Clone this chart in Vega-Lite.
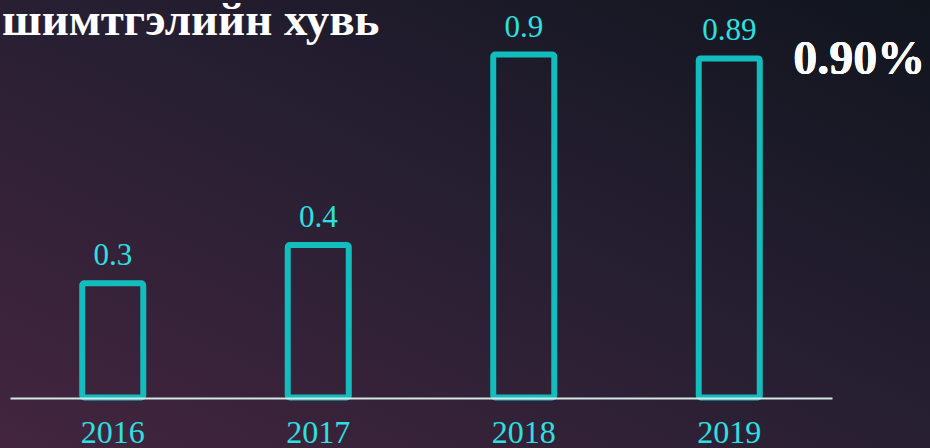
{
  "$schema": "https://vega.github.io/schema/vega-lite/v6.json",
  "width": 930,
  "height": 448,
  "autosize": {"type": "none"},
  "padding": 0,
  "background": "#231d2e",
  "config": {
    "view": {
      "stroke": null,
      "fill": {
        "gradient": "linear",
        "x1": 0, "y1": 1, "x2": 1, "y2": 0,
        "stops": [
          {"offset": 0, "color": "#43253f"},
          {"offset": 0.5, "color": "#281f33"},
          {"offset": 1, "color": "#10151e"}
        ]
      }
    }
  },
  "title": {
    "text": "шимтгэлийн хувь",
    "anchor": "start",
    "frame": "group",
    "orient": "top",
    "baseline": "alphabetic",
    "offset": -82,
    "dx": 2,
    "font": "Liberation Serif",
    "fontSize": 47,
    "fontWeight": "bold",
    "color": "#ffffff"
  },
  "data": {
    "values": [
      {"year": "2016", "value": 0.3},
      {"year": "2017", "value": 0.4},
      {"year": "2018", "value": 0.9},
      {"year": "2019", "value": 0.89}
    ]
  },
  "encoding": {
    "x": {
      "field": "year",
      "type": "ordinal",
      "scale": {"range": [10, 832], "paddingInner": 0.703, "paddingOuter": 0.3515},
      "axis": {
        "title": null,
        "offset": -50,
        "zindex": 1,
        "domainColor": "#d3e6e8",
        "domainWidth": 2,
        "ticks": false,
        "tickSize": 0,
        "labelPadding": 44,
        "labelBaseline": "alphabetic",
        "labelFont": "Liberation Serif",
        "labelFontSize": 32,
        "labelColor": "#2ee0e0",
        "labelAngle": 0
      }
    }
  },
  "layer": [
    {
      "mark": {
        "type": "bar",
        "fill": "transparent",
        "stroke": "#13bdbd",
        "strokeWidth": 6,
        "strokeJoin": "round",
        "cornerRadius": 2
      },
      "encoding": {
        "y": {
          "field": "value",
          "type": "quantitative",
          "scale": {"domain": [-0.1325, 1.0433], "nice": false, "zero": false},
          "axis": null
        },
        "y2": {"datum": 0}
      }
    },
    {
      "mark": {
        "type": "text",
        "font": "Liberation Serif",
        "fontSize": 31,
        "color": "#2ee0e0",
        "baseline": "alphabetic",
        "dy": -18
      },
      "encoding": {
        "y": {"field": "value", "type": "quantitative"},
        "text": {"field": "value", "type": "quantitative"}
      }
    },
    {
      "mark": {
        "type": "text",
        "font": "Liberation Serif",
        "fontSize": 48,
        "fontWeight": "bold",
        "color": "#ffffff",
        "align": "left",
        "baseline": "alphabetic",
        "dx": 64,
        "dy": 19
      },
      "encoding": {
        "x": {"datum": "2019"},
        "y": {"datum": 0.9},
        "text": {"value": "0.90%"}
      }
    }
  ]
}
